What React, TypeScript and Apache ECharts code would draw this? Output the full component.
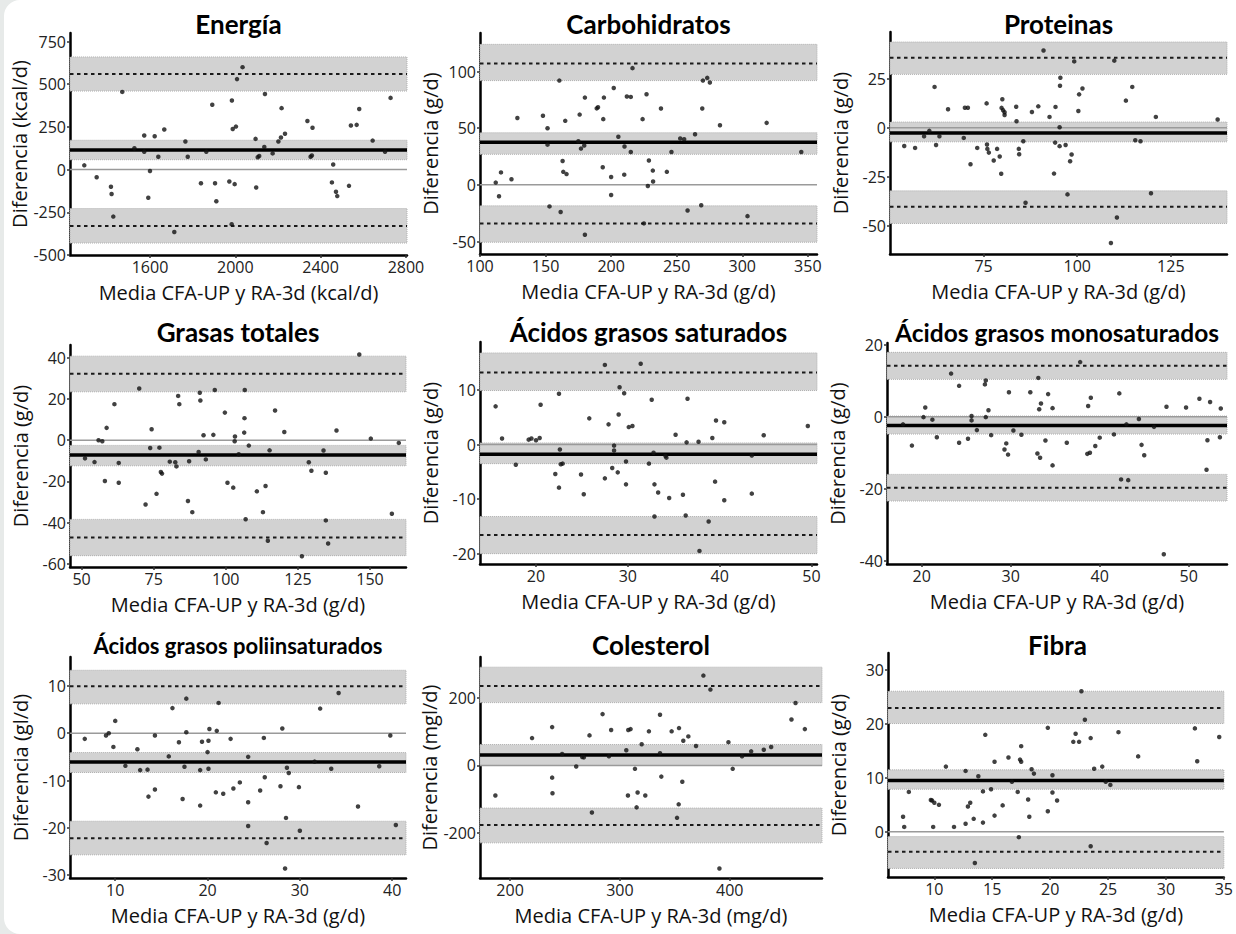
import React, { useEffect, useRef } from "react";
import * as echarts from "echarts";

// ---------- Energía ----------
const energiaPoints = [
  [1292, 25], [1350, -45], [1417, -100], [1420, -143], [1428, -275], [1470, 455], [1527, 125],
  [1573, 200], [1573, 105], [1592, -165], [1600, -8], [1622, 195], [1639, 75], [1667, 235],
  [1714, -365], [1766, 165], [1777, 75], [1839, -80], [1864, 105], [1892, 380], [1905, -80],
  [1911, -185], [1972, -70], [1983, -320], [1984, 405], [1988, 238], [1997, -85], [2003, 252],
  [2008, 530], [2034, 600], [2095, 180], [2098, -105], [2105, 72], [2112, 80], [2139, 443],
  [2136, 133], [2175, 95], [2202, 165], [2214, 188], [2217, 360], [2233, 210], [2338, 285],
  [2353, 75], [2362, 245], [2359, 83], [2453, -75], [2459, 30], [2472, -130], [2478, -155],
  [2533, -95], [2542, 258], [2569, 262], [2581, 355], [2644, 170], [2702, 105], [2728, 420],
];
const energiaLimits = [-330, 115, 560];
const energiaBands = [[-430, -228], [58, 172], [460, 660]];
const energiaXRange = [1225, 2805];
const energiaYRange = [-500, 800];
const energiaXTicks = [1600, 2000, 2400, 2800];
const energiaYTicks = [-500, -250, 0, 250, 500, 750];

// ---------- Carbohidratos ----------
const carboPoints = [
  [112, 2], [114.5, -10], [116, 11], [124, 5], [128.5, 59], [148, 61], [151.5, 50], [151.5, 35.5],
  [153, -19], [160.5, 92], [161.5, -24], [163, 21], [163.5, 11.5], [165, 56.5], [166, 9.5],
  [176, 62], [175, 38.5], [177, 32], [179.5, 34.7], [180, 77], [180, -44], [189, 67.5], [190, 68.5],
  [194, 58], [193.6, 15.6], [194.5, 77], [200, 7], [200, -9], [202, 85.5], [205.5, 42.5],
  [210, 9], [210.2, 33.8], [212, 78], [215, 77.6], [215, 29], [216.3, 103], [224, 58], [225, -34],
  [227, 80], [228, -1], [228.8, 21.5], [231.8, 12.6], [232, 3], [238, 67.4], [242.5, 11.5],
  [246, 29], [252.7, 41], [255.7, 40.3], [258.3, -22.6], [264, 44.7], [268.7, -18], [269.5, 67.4],
  [270, 92], [273.3, 94.4], [275.3, 90.3], [283, 52.6], [304, -27.6], [318.6, 54.7], [345, 29],
];
const carboLimits = [-34, 37.5, 107];
const carboBands = [[-50.6, -18.5], [27, 46], [92, 124]];
const carboXRange = [100, 357];
const carboYRange = [-61, 134];
const carboXTicks = [100, 150, 200, 250, 300, 350];
const carboYTicks = [-50, 0, 50, 100];

// ---------- Proteinas ----------
const protPoints = [
  [53.8, -9.3], [56.7, -10.3], [59.1, -4.4], [60.5, -1.6], [63.2, -4.4], [61.9, 20.8], [62.3, -8.8],
  [65.5, 9.4], [69.7, -5.2], [70, 10.2], [70.8, 10.2], [71.5, -18.6], [73.3, -10.3], [75.8, 12.4],
  [75.9, -8.6], [76, -10.8], [76.4, -12.7], [77.7, -16.7], [78.6, -10.8], [79.3, -14.7], [79.7, -23.5],
  [79.8, 10.1], [80, 14.5], [80.2, 8.9], [80.6, 7.9], [80.6, 6.5], [83.7, 10.7], [83.8, 3.3],
  [84.4, -10.8], [84.5, -13.5], [85.6, -6.9], [86.2, -38.3], [87.9, 8], [89.6, 10.9], [91, 39.4],
  [92.6, 5.5], [93.8, -23.4], [94.2, 10.6], [94.1, -7.6], [95.3, 0.2], [95.3, -9.4], [95.4, 21.4],
  [95.5, 25.5], [96.9, -8.8], [97.4, -34], [98.1, -17.1], [98.5, -13.7], [99.2, 33.8], [100.3, 8.5],
  [100.5, 17], [101.4, 20], [109.9, 34.2], [109, -58.8], [110.6, -45.8], [113, 13.8], [114.7, 20.8],
  [115.5, -6.4], [116.9, -6.9], [119.7, -33.4], [121, 5.5], [137.5, 4.2],
];
const protLimits = [-40.3, -2.7, 35.7];
const protBands = [[-48.8, -32.2], [-7.2, 2.9], [27.2, 43.7]];
const protXRange = [50, 140];
const protYRange = [-64.4, 48.8];
const protXTicks = [75, 100, 125];
const protYTicks = [-50, -25, 0, 25];

// ---------- Grasas totales ----------
const grasasPoints = [
  [51.2, -8.8], [54.5, -10.6], [55.9, 0], [57.2, -0.5], [58.1, -19.8], [58.7, 6], [61.4, 17.5],
  [62.9, -11], [62.9, -20.6], [70, 25.1], [72.2, -31.2], [73.8, -3.8], [74.3, 5.3], [76, -26],
  [77, -3.6], [77.5, -15.4], [77.9, -16.2], [80.6, -10.4], [82.5, -10.7], [82.9, -12.7], [83.5, 21.5],
  [83.9, 17.5], [86.9, -29.5], [87.3, -10.2], [88.4, -34.9], [90.6, -5.7], [91, 23], [91.2, 19.3],
  [92.3, 2.4], [93.1, -9.3], [95.7, 2.6], [96.2, 24.4], [99.7, 13.4], [100.6, -20.6], [102.6, -23],
  [103.2, 1.8], [103.1, -0.5], [104.5, -6.8], [106.4, 3.7], [106.5, 10.7], [106.6, 24.4], [106.9, -38.3],
  [108, -2.6], [110.8, -24.8], [113.8, -22.2], [112.9, -34.9], [114.6, -48.8], [115.2, -4.9],
  [117.1, 14.4], [120.3, 4], [126.4, -56.3], [128.8, -10.7], [129.7, -14.8], [133.9, -5], [134.7, -15.8],
  [134.7, -38.9], [135.5, -50.1], [138.4, 4.7], [146.3, 41.6], [150.3, 0.8], [157.6, -35.7], [160, -1.3],
];
const grasasLimits = [-47.2, -7.2, 32.2];
const grasasBands = [[-56, -38.4], [-12.4, -2.5], [23.5, 40.8]];
const grasasXRange = [46, 162.5];
const grasasYRange = [-61.5, 46.2];
const grasasXTicks = [50, 75, 100, 125, 150];
const grasasYTicks = [-60, -40, -20, 0, 20, 40];

// ---------- Ácidos grasos saturados ----------
const agsPoints = [
  [15.6, 7], [16.3, 1.1], [17.8, -3.7], [19.2, 0.9], [19.5, 1.1], [20, 0.8], [20.4, 1.2], [20.5, 7.3],
  [22.1, -5.4], [22.5, 9.3], [22.6, -0.9], [22.5, -7.9], [22.7, -3.6], [22.9, -3.5], [24.9, -5.5],
  [25.2, -9.1], [25.8, 4.8], [27.5, 14.6], [27.5, -6.2], [27.9, 3.7], [28.3, -4.3], [28.5, -0.2],
  [28.5, -1.1], [28.9, -5.1], [29, 5.5], [29.1, 10.5], [29.6, 9.4], [29.8, -3.1], [29.8, -7.3],
  [30.1, 3.2], [30.5, 3.4], [31.4, 14.8], [32.3, -3.5], [32.6, 8.2], [32.8, -1.5], [32.9, -13.2],
  [32.9, -7.3], [33.3, -8.8], [34.1, -2.1], [34.2, -2.4], [34.5, -9.8], [35.2, 1.8], [36, -9.2],
  [36.3, -13], [36.4, 0.4], [36.5, 8.4], [37.7, 0.5], [37.8, -19.5], [38.8, -14.1], [39.2, 1.2],
  [39.5, -6.8], [39.6, 4.4], [40.5, 4.1], [40.5, -10.2], [43.5, -2], [43.5, -9], [44.8, 1.7], [49.6, 3.4],
];
const agsLimits = [-16.6, -1.8, 13.2];
const agsBands = [[-20, -13.2], [-3.5, 0.3], [9.9, 16.8]];
const agsXRange = [13.9, 50.6];
const agsYRange = [-21.9, 18.8];
const agsXTicks = [20, 30, 40, 50];
const agsYTicks = [-20, -10, 0, 10];

// ---------- Ácidos grasos monosaturados ----------
const agmPoints = [
  [17.9, -2.1], [18.9, -8], [20.2, -0.1], [20.4, 2.6], [21.2, -0.8], [21.7, -5.7], [23.3, 12],
  [24.2, 8.6], [24.2, -7.2], [25.2, -6.1], [25.6, 0.2], [25.6, -1], [26.2, -3.7], [27.1, 9],
  [27.2, 10.1], [27.2, -0.1], [27.5, 1.8], [27.8, -5.1], [29.3, -9.1], [29.5, -7.4], [29.7, -10.5],
  [29.8, 6.8], [30.3, -3.8], [31.2, -5], [32.2, 6.8], [33, -10.2], [33.1, 10.8], [33.2, 2.1],
  [33.3, -11.4], [33.4, 3.7], [33.9, -6.6], [34.2, 6.3], [34.7, 2.4], [34.7, -13.5], [36.3, -7.2],
  [37.8, 15.2], [38.7, 3], [38.6, -10.3], [38.9, -10], [39, 5.3], [39.5, -8.1], [40, -5.8],
  [41.6, -4.9], [42.2, 6.5], [42.4, -17.4], [43, -2.1], [43.2, -17.6], [44.4, -0.6], [44.7, -7.8],
  [45, -10.7], [46.1, -2.8], [47.2, -38.2], [47.5, 2.8], [49.7, 2.6], [51.2, 5], [52, -14.7],
  [52.1, -6.5], [52.4, 4.1], [53.6, 2.3], [53.5, -5.7],
];
const agmLimits = [-19.7, -2.4, 14.2];
const agmBands = [[-23.4, -16], [-4.8, 0.2], [10.4, 17.9]];
const agmXRange = [16.1, 54.3];
const agmYRange = [-40.9, 20.5];
const agmXTicks = [20, 30, 40, 50];
const agmYTicks = [-40, -20, 0, 20];

// ---------- Ácidos grasos poliinsaturados ----------
const agpPoints = [
  [6.7, -1.2], [9, -0.5], [9.3, 0], [9.8, -2.9], [10, 2.6], [11.1, -6.9], [12.4, -3.4], [12.7, -7.8],
  [13.5, -7.7], [13.6, -13.4], [14.3, -11.9], [14.3, -0.5], [15.8, -4.9], [16.2, 5.3], [16.9, -1.9],
  [17.3, -13.9], [17.5, -7.1], [17.7, 7.3], [17.7, 0.2], [19.2, -7.8], [19.2, -15.3], [19.4, -1.8],
  [20, -4], [20.1, -7.5], [20.1, -1.6], [20.2, 0.9], [21, 0.5], [21.2, 6.4], [20.9, -12.5],
  [21.7, -12.8], [22.5, -1.2], [22.8, -11.7], [23.5, -10.4], [24.4, -5], [24.4, -14.6], [24.4, -19.6],
  [25.7, -12.1], [26.1, -1], [26.2, -9.3], [26.4, -23.2], [27.9, -11.2], [28.1, 1], [28.5, -17.9],
  [28.4, -28.6], [28.6, -7.3], [28.8, -8.4], [29.9, -11.4], [30, -20.6], [31.6, -6], [32.2, 5.2],
  [33.4, -7.5], [34.2, 8.5], [36.3, -15.5], [38.6, -7], [39.8, -0.5], [40.4, -19.4],
];
const agpLimits = [-22.2, -6.1, 9.9];
const agpBands = [[-25.7, -18.6], [-8.3, -4.1], [6.2, 13.3]];
const agpXRange = [5.1, 41.5];
const agpYRange = [-30.6, 16.1];
const agpXTicks = [10, 20, 30, 40];
const agpYTicks = [-30, -20, -10, 0, 10];

// ---------- Colesterol ----------
const colPoints = [
  [186.6, -89], [220, 81], [238.3, 113.5], [238.3, -36], [238.6, -82], [247.4, 34], [260.2, -3],
  [265.7, 25], [267.2, 24], [272.3, 89], [274.5, -139], [284.2, 152], [290, 27], [292, 105],
  [305.8, 45], [307.3, -89], [307.6, 105], [309.7, 107.6], [313.7, -10], [315.2, -124], [316.1, -80],
  [319.8, 63], [323.1, -89], [326.4, 101], [336.5, 36], [336.5, 150], [337.7, -33], [347.1, 101],
  [352, -155], [353.5, -115], [353.8, 110.6], [356.8, -48], [357.7, 73], [362.3, 86], [369.3, 57.5],
  [376, 266], [382.4, 224.6], [390.6, -305], [398.8, 69], [402.7, -10], [411.2, 27], [419.5, 41.8],
  [431, 46.7], [437.7, 54.5], [456.2, 136], [459.9, 185], [468.4, 107.6],
];
const colLimits = [-176, 31, 235];
const colBands = [[-229, -126], [0, 62], [186, 291]];
const colXRange = [172.6, 484];
const colYRange = [-333, 321];
const colXTicks = [200, 300, 400];
const colYTicks = [-200, 0, 200];

// ---------- Fibra ----------
const fibraPoints = [
  [7.3, 2.8], [7.4, 0.9], [7.8, 7.4], [9.7, 5.9], [9.8, 5.8], [9.9, 0.9], [10, 5.4], [10.4, 5],
  [11, 12.1], [11.7, 0.9], [12.7, 11.3], [12.7, 1.5], [12.9, 4.7], [13.1, 5.4], [13.4, 2.4],
  [13.5, -5.8], [13.8, 10.3], [14.2, 7.5], [14.2, 1.7], [14.4, 18], [14.9, 7.9], [15.2, 13], [15.2, 3],
  [15.9, 4.9], [16.4, 13.8], [16.7, 9.3], [17.2, 7.4], [17.3, -1], [17.4, 13.4], [17.5, 13],
  [17.5, 15.9], [18.1, 6], [18.2, 2.8], [18.4, 11.6], [18.6, 10.8], [19.8, 19.3], [19.8, 3.8],
  [20.2, 7.3], [20.2, 10.5], [20.6, 5.8], [22, 16.7], [22.2, 18.2], [22.5, 16.7], [22.7, 26.1],
  [23, 20.8], [23.5, 17.4], [23.5, -2.7], [23.8, 11.7], [24.5, 12.1], [24.8, 9.3], [25.2, 8.7],
  [25.9, 18.5], [27.6, 14], [32.5, 19.2], [32.7, 13.1], [34.6, 17.6],
];
const fibraLimits = [-3.7, 9.5, 23];
const fibraBands = [[-6.8, -0.9], [7.9, 11.5], [20.1, 26.1]];
const fibraXRange = [6, 35];
const fibraYRange = [-8.4, 33.2];
const fibraXTicks = [10, 15, 20, 25, 30, 35];
const fibraYTicks = [0, 10, 20, 30];

// ---------- texts ----------
const titles = [
  "Energía", "Carbohidratos", "Proteinas",
  "Grasas totales", "Ácidos grasos saturados", "Ácidos grasos monosaturados",
  "Ácidos grasos poliinsaturados", "Colesterol", "Fibra",
];
const xNames = [
  "Media CFA-UP y RA-3d (kcal/d)", "Media CFA-UP y RA-3d (g/d)", "Media CFA-UP y RA-3d (g/d)",
  "Media CFA-UP y RA-3d (g/d)", "Media CFA-UP y RA-3d (g/d)", "Media CFA-UP y RA-3d (g/d)",
  "Media CFA-UP y RA-3d (g/d)", "Media CFA-UP y RA-3d (mg/d)", "Media CFA-UP y RA-3d (g/d)",
];
const yNames = [
  "Diferencia (kcal/d)", "Diferencia (g/d)", "Diferencia (g/d)",
  "Diferencia (g/d)", "Diferencia (g/d)", "Diferencia (g/d)",
  "Diferencia (gl/d)", "Diferencia (mgl/d)", "Diferencia (g/d)",
];

const panelData = [
  { points: energiaPoints, limits: energiaLimits, bands: energiaBands, xr: energiaXRange, yr: energiaYRange, xt: energiaXTicks, yt: energiaYTicks },
  { points: carboPoints, limits: carboLimits, bands: carboBands, xr: carboXRange, yr: carboYRange, xt: carboXTicks, yt: carboYTicks },
  { points: protPoints, limits: protLimits, bands: protBands, xr: protXRange, yr: protYRange, xt: protXTicks, yt: protYTicks },
  { points: grasasPoints, limits: grasasLimits, bands: grasasBands, xr: grasasXRange, yr: grasasYRange, xt: grasasXTicks, yt: grasasYTicks },
  { points: agsPoints, limits: agsLimits, bands: agsBands, xr: agsXRange, yr: agsYRange, xt: agsXTicks, yt: agsYTicks },
  { points: agmPoints, limits: agmLimits, bands: agmBands, xr: agmXRange, yr: agmYRange, xt: agmXTicks, yt: agmYTicks },
  { points: agpPoints, limits: agpLimits, bands: agpBands, xr: agpXRange, yr: agpYRange, xt: agpXTicks, yt: agpYTicks },
  { points: colPoints, limits: colLimits, bands: colBands, xr: colXRange, yr: colYRange, xt: colXTicks, yt: colYTicks },
  { points: fibraPoints, limits: fibraLimits, bands: fibraBands, xr: fibraXRange, yr: fibraYRange, xt: fibraXTicks, yt: fibraYTicks },
];

// ---------- layout (pixels) ----------
const gridBoxes = [
  { left: 70, top: 33, width: 337, height: 222 },
  { left: 480, top: 33, width: 337, height: 221 },
  { left: 890, top: 32, width: 337, height: 222 },
  { left: 70, top: 345, width: 336, height: 222 },
  { left: 480, top: 342, width: 337, height: 222 },
  { left: 887, top: 343, width: 340, height: 221 },
  { left: 70, top: 657, width: 336, height: 221 },
  { left: 480, top: 657, width: 342, height: 221 },
  { left: 888, top: 653, width: 339, height: 224 },
];
const titleY = [24, 24, 24, 332, 332, 332, 645, 645, 645];
const titleSizes = [26, 26, 26, 26, 26, 24.5, 22, 26, 26];

const FONT = "Open Sans";
const TITLE_FONT = "Lato";

function buildOption() {
  const grid: any[] = [];
  const xAxis: any[] = [];
  const yAxis: any[] = [];
  const series: any[] = [];
  const graphic: any[] = [];
  const fmt = (v: number) => String(v);

  panelData.forEach((p, i) => {
    const g = gridBoxes[i];
    grid.push({ left: g.left, top: g.top, width: g.width, height: g.height, containLabel: false });
    const axisCommon = {
      gridIndex: i,
      type: "value",
      splitLine: { show: false },
      axisLine: { show: true, onZero: false, lineStyle: { color: "#000", width: 2.5 } },
      nameLocation: "middle",
      nameTextStyle: { fontSize: 20, color: "#111", fontFamily: FONT },
    };
    xAxis.push({
      ...axisCommon,
      min: p.xr[0],
      max: p.xr[1],
      name: xNames[i],
      nameGap: 27,
      axisTick: { show: true, customValues: p.xt, length: 3, lineStyle: { color: "#333", width: 1.5 } },
      axisLabel: { customValues: p.xt, formatter: fmt, fontSize: 16, color: "#222", fontFamily: FONT, margin: 4 },
    });
    yAxis.push({
      ...axisCommon,
      min: p.yr[0],
      max: p.yr[1],
      name: yNames[i],
      nameGap: 40,
      axisTick: { show: true, customValues: p.yt, length: 3, lineStyle: { color: "#333", width: 1.5 } },
      axisLabel: { customValues: p.yt, formatter: fmt, fontSize: 16, color: "#222", fontFamily: FONT, margin: 4 },
    });

    const hline = (v: number, style: any, z: number) => ({
      type: "line",
      xAxisIndex: i,
      yAxisIndex: i,
      data: [[p.xr[0], v], [p.xr[1], v]],
      symbol: "none",
      silent: true,
      z,
      lineStyle: style,
    });

    series.push({
      type: "scatter",
      xAxisIndex: i,
      yAxisIndex: i,
      data: p.points,
      symbol: "circle",
      symbolSize: 4.5,
      itemStyle: { color: "#111" },
      z: 6,
      silent: true,
      markArea: {
        silent: true,
        z: 1,
        itemStyle: { color: "#d2d2d2", borderColor: "#b0b0b0", borderWidth: 1, borderType: "dotted" },
        data: p.bands.map((b) => [{ yAxis: b[0] }, { yAxis: b[1] }]),
      },
    });
    series.push(hline(0, { color: "#9a9a9a", width: 1.5 }, 2));
    series.push(hline(p.limits[0], { color: "#1a1a1a", width: 2, type: [3.5, 3.5] }, 3));
    series.push(hline(p.limits[2], { color: "#1a1a1a", width: 2, type: [3.5, 3.5] }, 3));
    series.push(hline(p.limits[1], { color: "#000", width: 3.5 }, 4));

    graphic.push({
      type: "text",
      x: g.left + g.width / 2,
      y: titleY[i],
      style: {
        text: titles[i],
        fontSize: titleSizes[i],
        fontWeight: "bold",
        fontFamily: TITLE_FONT,
        fill: "#000",
        align: "center",
        verticalAlign: "middle",
      },
    });
  });

  return { animation: false, grid, xAxis, yAxis, series, graphic };
}

export default function App() {
  const ref = useRef<HTMLDivElement>(null);
  useEffect(() => {
    if (!ref.current) return;
    const chart = echarts.init(ref.current, undefined, { renderer: "svg" });
    chart.setOption(buildOption() as any);
    return () => chart.dispose();
  }, []);
  return (
    <div style={{ position: "fixed", left: 0, top: 0, width: 1236, height: 934, background: "#e7eae9", overflow: "hidden" }}>
      <div style={{ position: "absolute", left: 4, top: 0, width: 1260, height: 934, background: "#fff", borderRadius: "16px 0 0 16px" }} />
      <div ref={ref} style={{ position: "absolute", left: 0, top: 0, width: 1236, height: 934 }} />
    </div>
  );
}
